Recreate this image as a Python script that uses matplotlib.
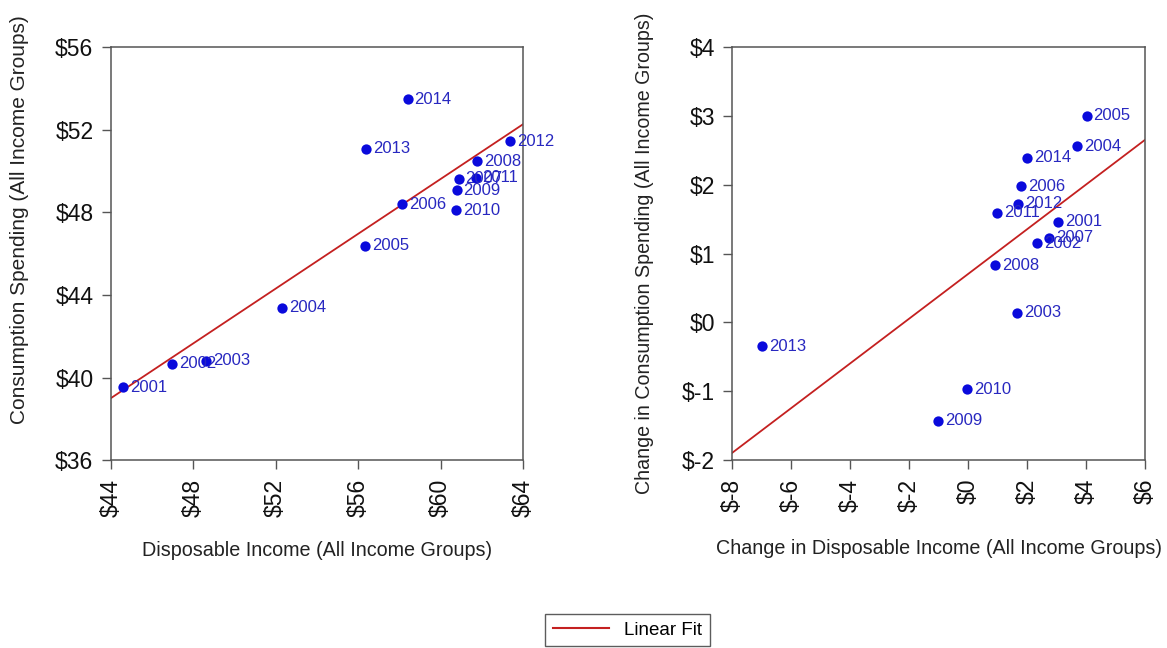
import numpy as np
import matplotlib
matplotlib.use("Agg")
import matplotlib.pyplot as plt
from matplotlib.lines import Line2D

plt.rcParams['font.family'] = ['Liberation Sans', 'DejaVu Sans']

years = ["2001", "2002", "2003", "2004", "2005", "2006", "2007",
         "2008", "2009", "2010", "2011", "2012", "2013", "2014"]

# levels (all income groups)
income = [44.61, 46.96, 48.63, 52.32, 56.33, 58.13, 60.87,
          61.78, 60.78, 60.75, 61.70, 63.38, 56.39, 58.40]
spending = [39.53, 40.66, 40.81, 43.38, 46.39, 48.38, 49.62,
            50.46, 49.06, 48.09, 49.66, 51.43, 51.08, 53.46]

# year-over-year changes
d_income = [3.06, 2.35, 1.66, 3.69, 4.02, 1.80, 2.75,
            0.92, -1.02, -0.04, 0.97, 1.70, -7.00, 2.01]
d_spending = [1.46, 1.15, 0.14, 2.56, 3.00, 1.98, 1.23,
              0.83, -1.43, -0.97, 1.59, 1.72, -0.35, 2.39]

# linear fits (slope, intercept) as drawn
fit_left = (0.663, 9.83)
fit_right = (0.3246, 0.703)

pt_color = "#0A0ADC"
lab_color = "#2828C0"
fit_color = "#C42020"
spine_color = "#555555"
W, H = 1167, 648


def money(v, pos=None):
    return "$%d" % v


def panel(ax, x, y, fit, xlim, ylim, xticks, yticks):
    xs = np.array(xlim, dtype=float)
    ax.plot(xs, fit[0] * xs + fit[1], color=fit_color, lw=1.3, zorder=2)
    ax.scatter(x, y, s=55, color=pt_color, zorder=3, linewidths=0)
    for xi, yi, t in zip(x, y, years):
        ax.annotate(t, (xi, yi), xytext=(5, 0), textcoords="offset points",
                    va="center", ha="left", fontsize=12, color=lab_color, zorder=4)
    ax.set_xlim(*xlim)
    ax.set_ylim(*ylim)
    ax.set_xticks(xticks)
    ax.set_yticks(yticks)
    ax.xaxis.set_major_formatter(plt.FuncFormatter(money))
    ax.yaxis.set_major_formatter(plt.FuncFormatter(money))
    ax.tick_params(axis="x", labelrotation=90, pad=7)
    ax.tick_params(axis="y", pad=6)
    ax.tick_params(direction="out", length=6.5, width=1, color=spine_color,
                   labelsize=16.5, labelcolor="#111111")
    for s in ax.spines.values():
        s.set_color(spine_color)
        s.set_linewidth(1.1)


fig = plt.figure(figsize=(11.67, 6.48), dpi=100)
ax1 = fig.add_axes([0.0949, 0.2897, 0.3533, 0.6378])
ax2 = fig.add_axes([0.6275, 0.2900, 0.3536, 0.6375])

panel(ax1, income, spending, fit_left, (44, 64), (36, 56),
      [44, 48, 52, 56, 60, 64], [36, 40, 44, 48, 52, 56])
panel(ax2, d_income, d_spending, fit_right, (-8, 6), (-2, 4),
      [-8, -6, -4, -2, 0, 2, 4, 6], [-2, -1, 0, 1, 2, 3, 4])

lab_kw = dict(ha="center", va="center", color="#222222")
fig.text(317 / W, 1 - 551 / H, "Disposable Income (All Income Groups)",
         fontsize=14.2, **lab_kw)
fig.text(20 / W, 1 - 220 / H, "Consumption Spending (All Income Groups)",
         fontsize=15, rotation=90, **lab_kw)
fig.text(938.5 / W, 1 - 548 / H, "Change in Disposable Income (All Income Groups)",
         fontsize=14.2, **lab_kw)
fig.text(645 / W, 1 - 253 / H, "Change in Consumption Spending (All Income Groups)",
         fontsize=14.1, rotation=90, **lab_kw)

handle = Line2D([], [], color=fit_color, lw=1.5)
leg = fig.legend([handle], ["Linear Fit"], loc="upper center",
                 bbox_to_anchor=(0.5377, 1 - 614 / H), borderaxespad=0,
                 fontsize=13.5, frameon=True, fancybox=False,
                 handlelength=3, borderpad=0.4)
leg.get_frame().set_edgecolor("#333333")
leg.get_frame().set_linewidth(1.0)

fig.savefig("out.png", dpi=100)
